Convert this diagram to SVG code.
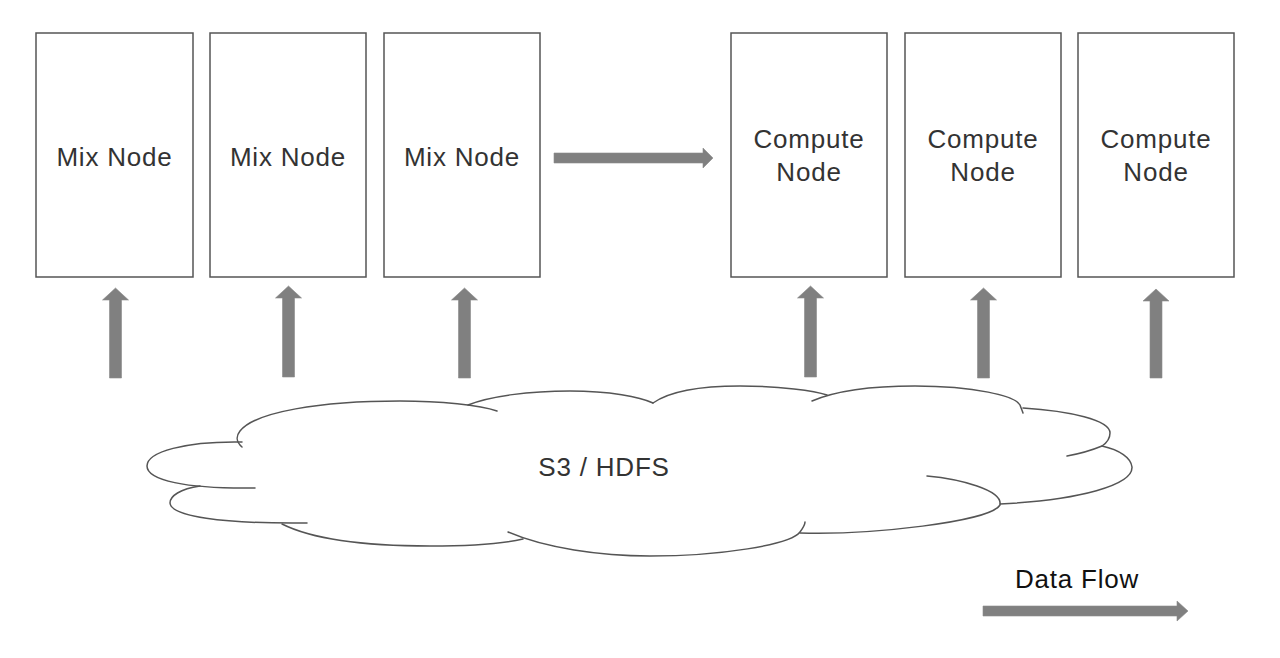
<svg xmlns="http://www.w3.org/2000/svg" width="1280" height="658" viewBox="0 0 1280 658">
<style>
.box{fill:#fff;stroke:#555;stroke-width:1.5}
.lbl{font-family:"Liberation Sans",Arial,sans-serif;font-size:26px;fill:#333;letter-spacing:0.8px;text-anchor:middle}
.arr{fill:#808080;stroke:#8a8a8a;stroke-width:0.6}
.cl{fill:none;stroke:#555;stroke-width:1.5;stroke-linecap:round}
</style>
<rect width="1280" height="658" fill="#fff"/>
<g id="mix1"><rect class="box" x="36" y="33" width="157" height="244"/><text class="lbl" x="114.5" y="166">Mix Node</text></g>
<g id="mix2"><rect class="box" x="210" y="33" width="156" height="244"/><text class="lbl" x="288" y="166">Mix Node</text></g>
<g id="mix3"><rect class="box" x="384" y="33" width="156" height="244"/><text class="lbl" x="462" y="166">Mix Node</text></g>
<g id="compute1"><rect class="box" x="731" y="33" width="156" height="244"/><text class="lbl" x="809" y="148">Compute</text><text class="lbl" x="809" y="181">Node</text></g>
<g id="compute2"><rect class="box" x="905" y="33" width="156" height="244"/><text class="lbl" x="983" y="148">Compute</text><text class="lbl" x="983" y="181">Node</text></g>
<g id="compute3"><rect class="box" x="1078" y="33" width="156" height="244"/><text class="lbl" x="1156" y="148">Compute</text><text class="lbl" x="1156" y="181">Node</text></g>
<g id="storage">
<path class="cl" d="M 242 442 C 185 441 147 452 147 466 C 147 480 185 489 255 488"/>
<path class="cl" d="M 200 486 C 180 489 170 496 170 503 C 171 516 220 524 307 523"/>
<path class="cl" d="M 282 524 C 310 538 360 546 430 546 C 470 546 505 543 523 539"/>
<path class="cl" d="M 508 532 C 545 548 600 556 650 556 C 720 556 790 545 800 532 C 803 528 805 525 805 522"/>
<path class="cl" d="M 800 533 C 870 535 990 522 1000 505 C 1003 490 960 479 927 476"/>
<path class="cl" d="M 1000 504 C 1080 500 1133 485 1132 467 C 1131 458 1120 450 1102 446"/>
<path class="cl" d="M 1023 408 C 1070 411 1110 420 1110 433 C 1110 440 1105 444 1102 446 C 1090 451 1078 454 1067 456"/>
<path class="cl" d="M 812 401 C 840 389 880 386 915 386 C 975 386 1015 396 1020 405 C 1021 408 1022 410 1023 413"/>
<path class="cl" d="M 653 403 C 670 391 700 386 740 386 C 780 386 815 391 827 395"/>
<path class="cl" d="M 468 405 C 490 396 530 391 570 391 C 610 391 640 397 653 403"/>
<path class="cl" d="M 242 447 C 236 442 236 436 240 431 C 255 412 320 401 400 401 C 440 401 480 405 497 411"/>
<text class="lbl" x="604" y="476">S3 / HDFS</text>
</g>
<g id="legend"><text class="lbl" x="1077" y="588" style="fill:#111">Data Flow</text></g>
<g id="connectors">
<polygon class="arr" points="554,153 703,153 703,148 713,158 703,168 703,163 554,163"/>
<polygon class="arr" points="115.5,288 128.5,300 121.5,300 121.5,378 109.5,378 109.5,300 102.5,300"/>
<polygon class="arr" points="288.5,286 301.5,298 294.5,298 294.5,377 282.5,377 282.5,298 275.5,298"/>
<polygon class="arr" points="464.5,288 477.5,300 470.5,300 470.5,378 458.5,378 458.5,300 451.5,300"/>
<polygon class="arr" points="810.5,286 823.5,298 816.5,298 816.5,377 804.5,377 804.5,298 797.5,298"/>
<polygon class="arr" points="983.5,288 996.5,300 989.5,300 989.5,378 977.5,378 977.5,300 970.5,300"/>
<polygon class="arr" points="1156,289 1169,301 1162,301 1162,378 1150,378 1150,301 1143,301"/>
<polygon class="arr" points="983,606 1177,606 1177,601 1188,611 1177,621 1177,616 983,616"/>
</g>
</svg>
